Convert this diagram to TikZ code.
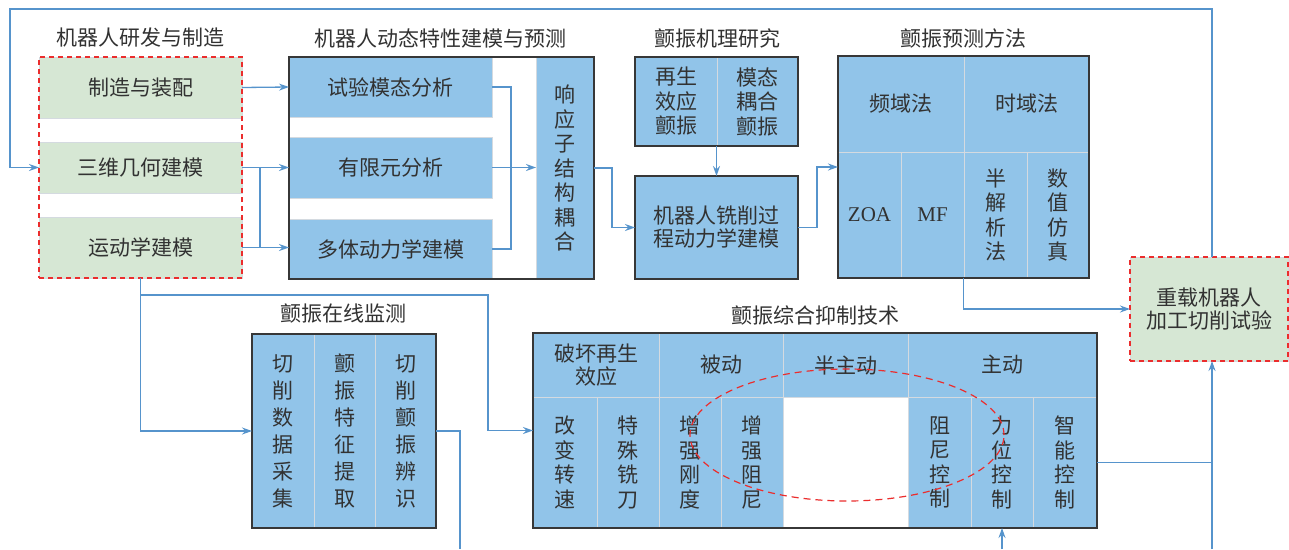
\documentclass[tikz,border=0pt]{standalone}
\usepackage{fontspec}
\newfontfamily\cjk{Noto Sans CJK SC}
\newfontfamily\tnr{Liberation Serif}
\usetikzlibrary{arrows.meta}
\definecolor{cblue}{RGB}{145,196,233}
\definecolor{cgreen}{RGB}{214,231,212}
\definecolor{cdiv}{RGB}{212,218,224}
\definecolor{cframe}{RGB}{55,55,55}
\definecolor{cline}{RGB}{86,148,204}
\definecolor{cred}{RGB}{235,45,45}
\definecolor{ctext}{RGB}{50,50,50}
\newcommand\bx[7][]{\node[#1, minimum width={(#5)-(#3)}, minimum height={(#6)-(#4)}] (#2) at ({((#3)+(#5))/2},{((#4)+(#6))/2}) {#7};}
\tikzset{
  base/.style={inner sep=0pt, outer sep=0pt, align=center, text=ctext, font=\cjk\fontsize{21}{24.5}\selectfont},
  title/.style={base},
  bcell/.style={base, fill=cblue, draw=cdiv, line width=1pt},
  gcell/.style={base, fill=cgreen, draw=cdiv, line width=1pt},
  wide/.style={font=\cjk\fontsize{21}{27}\selectfont},
  two/.style={font=\cjk\fontsize{21}{23}\selectfont},
  latin/.style={font=\tnr\fontsize{21}{24.5}\selectfont},
  frame/.style={base, draw=cframe, line width=1.5pt},
  redframe/.style={base, draw=cred, line width=1.2pt, dash pattern=on 5pt off 4pt},
  link/.style={draw=cline, line width=1.3pt},
  arrow/.style={link, -{Stealth[length=10pt,width=7pt]}},
  reddash/.style={draw=cred, line width=1.2pt, dash pattern=on 7pt off 5pt}
}
\begin{document}
\begin{tikzpicture}[x=1pt,y=-1pt]
\fill[white] (0,0) rectangle (1289,549);
\useasboundingbox (0,0) rectangle (1289,549);
% titles
\node[title] (t1) at (140,38) {机器人研发与制造};
\node[title] (t2) at (440,38) {机器人动态特性建模与预测};
\node[title] (t3) at (717,38) {颤振机理研究};
\node[title] (t4) at (963,38) {颤振预测方法};
\node[title] (t5) at (343,314) {颤振在线监测};
\node[title] (t6) at (815,315) {颤振综合抑制技术};
% robot R&D
\bx[gcell]{zz}{39}{57}{242}{118}{制造与装配}
\bx[gcell]{sw}{39}{142}{242}{193}{三维几何建模}
\bx[gcell]{ys}{39}{217}{242}{278}{运动学建模}
\bx[redframe]{rf}{39}{57}{242}{278}{}
% dynamics
\bx[bcell]{sy}{289}{57}{492}{117}{试验模态分析}
\bx[bcell]{yx}{289}{137}{492}{198}{有限元分析}
\bx[bcell]{dt}{289}{219}{492}{279}{多体动力学建模}
\bx[bcell]{xy}{536}{57}{594}{279}{响\\应\\子\\结\\构\\耦\\合}
\bx[frame]{df}{289}{57}{594}{279}{}
% mechanism
\bx[bcell]{jl}{635}{57}{717}{146}{再生\\效应\\颤振}
\bx[bcell]{jr}{717}{57}{798}{146}{模态\\耦合\\颤振}
\bx[frame]{jf}{635}{57}{798}{146}{}
\bx[bcell,two]{xx}{635}{176}{798}{279}{机器人铣削过\\程动力学建模}
\bx[frame]{xf}{635}{176}{798}{279}{}
% prediction
\bx[bcell]{pf}{838}{56}{964}{152}{频域法}
\bx[bcell]{ps}{964}{56}{1089}{152}{时域法}
\bx[bcell,latin]{p1}{838}{152}{901}{278}{ZOA}
\bx[bcell,latin]{p2}{901}{152}{964}{278}{MF}
\bx[bcell]{p3}{964}{152}{1027}{278}{半\\解\\析\\法}
\bx[bcell]{p4}{1027}{152}{1089}{278}{数\\值\\仿\\真}
\bx[frame]{yc}{838}{56}{1089}{278}{}
% heavy test
\bx[gcell,two]{zz2}{1130}{257}{1288}{361}{重载机器人\\加工切削试验}
\bx[redframe]{zf}{1130}{257}{1288}{361}{}
% monitoring
\bx[bcell,wide]{m1}{252}{334}{314}{528}{切\\削\\数\\据\\采\\集}
\bx[bcell,wide]{m2}{314}{334}{375}{528}{颤\\振\\特\\征\\提\\取}
\bx[bcell,wide]{m3}{375}{334}{436}{528}{切\\削\\颤\\振\\辨\\识}
\bx[frame]{jc}{252}{334}{436}{528}{}
% suppression
\bx[bcell,two]{s1}{533}{333}{659}{397}{破坏再生\\效应}
\bx[bcell]{s2}{659}{333}{783}{397}{被动}
\bx[bcell]{s3}{783}{333}{908}{397}{半主动}
\bx[bcell]{s4}{908}{333}{1097}{397}{主动}
\bx[bcell]{c1}{533}{397}{597}{528}{改\\变\\转\\速}
\bx[bcell]{c2}{597}{397}{659}{528}{特\\殊\\铣\\刀}
\bx[bcell]{c3}{659}{397}{721}{528}{增\\强\\刚\\度}
\bx[bcell]{c4}{721}{397}{783}{528}{增\\强\\阻\\尼}
\bx[bcell]{c6}{908}{397}{971}{528}{阻\\尼\\控\\制}
\bx[bcell]{lw}{971}{397}{1033}{528}{力\\位\\控\\制}
\bx[bcell]{zn}{1033}{397}{1097}{528}{智\\能\\控\\制}
\bx[frame]{yz}{533}{333}{1097}{528}{}
% coordinates
\coordinate (j1) at (260,167.5);
\coordinate (j2) at (511,87);
\coordinate (j3) at (612,168);
\coordinate (j4) at (817,227.5);
\coordinate (tr) at (1212,9);
\coordinate (tl) at (10,9);
\coordinate (b2) at (488,295);
\coordinate (b3) at (460,549);
\coordinate (b4) at (1002,549);
\coordinate (b5) at (1212,549);
% connectors
\draw[arrow] (zz.east) -- (sy.west);
\draw[arrow] (sw.east) -- (yx.west);
\draw[link] (j1) -- (j1 |- ys.east);
\draw[arrow] (ys.east) -- (ys.east -| dt.west);
\draw[link] (sy.east) -- (j2) -- (j2 |- dt.east) -- (dt.east);
\draw[arrow] (yx.east) -- (yx.east -| xy.west);
\draw[arrow] (xy.east) -- (j3) |- (xx.west);
\draw[arrow] (jf.south) -- (xx.north);
\draw[arrow] (xx.east) -- (j4) |- (yc.west);
\draw[arrow] (yc.south) |- (zz2.west);
\draw[arrow] (tr |- zz2.north) -- (tr) -- (tl) |- (sw.west);
\draw[arrow] (ys.south) |- (jc.west);
\draw[arrow] (ys.south |- b2) -- (b2) |- (yz.west);
\draw[link] (jc.east) -| (b3);
\draw[arrow] (b4) -- (lw.south);
\draw[arrow] (b5) -- (b5 |- zz2.south);
\draw[link] (zn.east) -- (zn.east -| b5);
% ellipse
\draw[reddash] (847,435) ellipse [x radius=157pt, y radius=66pt];
\end{tikzpicture}
\end{document}
